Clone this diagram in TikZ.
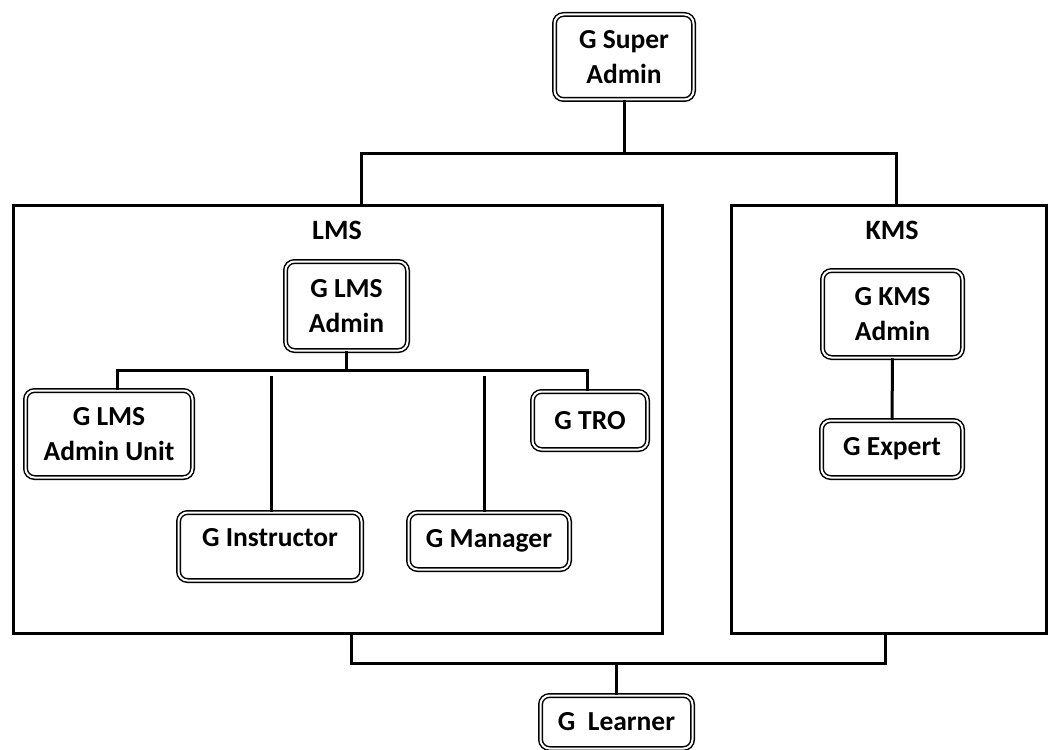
\documentclass[tikz,border=0pt]{standalone}
\usepackage{fontspec}
\setmainfont{Carlito}
\usepackage{tikz}
\usetikzlibrary{calc}

\begin{document}
\begin{tikzpicture}[x=1pt,y=-1pt,
  role/.style={draw,double,line width=1.5pt,double distance=2pt,rounded corners=9pt,
    align=center,inner sep=0pt,font=\bfseries\fontsize{27.5}{35}\selectfont},
  group/.style={draw,line width=3pt,inner sep=0pt},
  grouplabel/.style={font=\bfseries\fontsize{28}{35}\selectfont},
  link/.style={line width=3pt}]
  \useasboundingbox (0,0) rectangle (1048,749);

  \node[role,minimum width=139,minimum height=85] (sadmin) at (624,57) {G Super\\Admin};

  \node[group,minimum width=649,minimum height=428] (lms) at (337.5,419) {};
  \node[grouplabel] (lmslabel) at (337,230) {LMS};
  \node[group,minimum width=315,minimum height=428] (kms) at (888.5,419) {};
  \node[grouplabel] (kmslabel) at (892,230) {KMS};

  \node[role,minimum width=122,minimum height=89] (lmsadmin) at (346.5,306) {G LMS\\Admin};
  \node[role,minimum width=167,minimum height=87] (unit) at (109,434) {G LMS\\Admin Unit};
  \node[role,minimum width=183,minimum height=68,text height=10pt,text depth=10pt] (instr) at (270,546.5) {G Instructor};
  \node[role,minimum width=161,minimum height=57] (manager) at (489,541) {G Manager};
  \node[role,minimum width=115,minimum height=58] (tro) at (590,420.5) {G TRO};

  \node[role,minimum width=140,minimum height=87] (kadmin) at (892.5,314) {G KMS\\Admin};
  \node[role,minimum width=141,minimum height=57] (expert) at (892,449) {G Expert};

  \node[role,minimum width=152,minimum height=53] (learner) at (616.5,722) {G~~Learner};

  \coordinate (tl) at (361,153);
  \coordinate (tr) at (896,153);
  \draw[link] (sadmin.south) -- (sadmin.south |- tl);
  \draw[link] (lms.north -| tl) -- (tl) -- (tr) -- (kms.north -| tr);

  \coordinate (hl) at (117,370);
  \coordinate (hr) at (587,370);
  \draw[link] (lmsadmin.south) -- (lmsadmin.south |- hl);
  \draw[link] (unit.north -| hl) -- (hl) -- (hr) -- (tro.north -| hr);
  \coordinate (ci) at (271,376);
  \coordinate (cm) at (484,376);
  \draw[link] (ci) -- (instr.north -| ci);
  \draw[link] (cm) -- (manager.north -| cm);

  \draw[link] (kadmin.south) -- (expert.north);

  \coordinate (bl) at (351,663);
  \coordinate (br) at (885,663);
  \draw[link] (lms.south -| bl) -- (bl) -- (br) -- (kms.south -| br);
  \draw[link] (learner.north) -- (learner.north |- bl);
\end{tikzpicture}
\end{document}
